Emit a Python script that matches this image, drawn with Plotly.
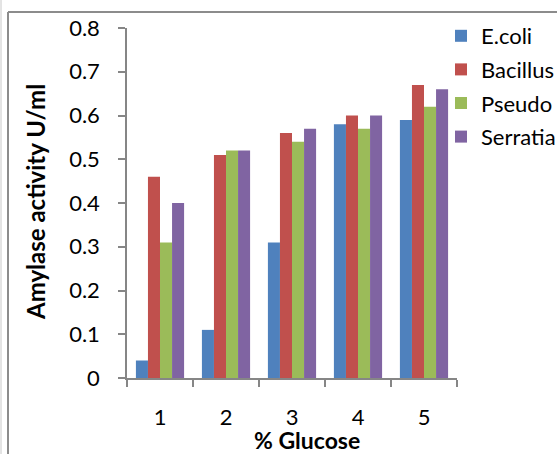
import plotly.graph_objects as go

# Amylase activity (U/ml) at each glucose concentration
glucose = ["1", "2", "3", "4", "5"]
ecoli = [0.04, 0.11, 0.31, 0.58, 0.59]
bacillus = [0.46, 0.51, 0.56, 0.60, 0.67]
pseudo = [0.31, 0.52, 0.54, 0.57, 0.62]
serratia = [0.40, 0.52, 0.57, 0.60, 0.66]

series_names = ["E.coli", "Bacillus", "Pseudo", "Serratia"]
series_values = [ecoli, bacillus, pseudo, serratia]
colors = ["#4F81BD", "#C0504D", "#9BBB59", "#8064A2"]

y_ticks = [0, 0.1, 0.2, 0.3, 0.4, 0.5, 0.6, 0.7, 0.8]
y_tick_text = ["0", "0.1", "0.2", "0.3", "0.4", "0.5", "0.6", "0.7", "0.8"]

FONT = "Lato"
AXIS_GREY = "#868686"
TICK_SIZE = 22
TITLE_SIZE = 24

fig = go.Figure()
for name, vals, col in zip(series_names, series_values, colors):
    fig.add_trace(go.Bar(
        x=glucose, y=vals, name=name,
        marker=dict(color=col, line=dict(width=0)),
        legendgroup=name,
    ))

W, H = 557, 454
L, R, T, B = 127, 100, 28, 76
pw, ph = W - L - R, H - T - B

def px_x(x):
    return (x - L) / pw

def px_y(y):
    return 1 - (y - T) / ph

fig.update_layout(
    width=W, height=H,
    margin=dict(l=L, r=R, t=T, b=B, autoexpand=False),
    paper_bgcolor="white", plot_bgcolor="white",
    barmode="group", bargap=0.27, bargroupgap=0,
    font=dict(family=FONT, size=TICK_SIZE, color="black"),
    showlegend=True,
    legend=dict(
        xref="container", yref="container",
        x=441 / W, y=1 - 15 / H, xanchor="left", yanchor="top",
        font=dict(family=FONT, size=TICK_SIZE, color="black"),
        bgcolor="rgba(0,0,0,0)", itemwidth=30, tracegroupgap=2,
    ),
    xaxis=dict(
        type="category", showline=True, linecolor=AXIS_GREY, linewidth=1.5,
        ticks="outside", ticklen=7, tickcolor=AXIS_GREY, tickwidth=1.5,
        tickson="boundaries", showgrid=False, zeroline=False,
        ticklabelstandoff=19,
        tickfont=dict(family=FONT, size=TICK_SIZE),
    ),
    yaxis=dict(
        range=[0, 0.8], tickvals=y_ticks, ticktext=y_tick_text,
        showline=True, linecolor=AXIS_GREY, linewidth=1.5,
        ticks="outside", ticklen=7, tickcolor=AXIS_GREY, tickwidth=1.5,
        showgrid=False, zeroline=False, ticklabelstandoff=14,
        tickfont=dict(family=FONT, size=TICK_SIZE),
    ),
    annotations=[
        dict(text="<b>% Glucose</b>", xref="paper", yref="paper",
             x=px_x(307), y=px_y(440), xanchor="center", yanchor="middle",
             showarrow=False, font=dict(family=FONT, size=23)),
        dict(text="<b>Amylase activity U/ml</b>", xref="paper", yref="paper",
             x=px_x(35), y=px_y(202), xanchor="center", yanchor="middle",
             textangle=-90, showarrow=False, font=dict(family=FONT, size=TITLE_SIZE)),
    ],
    shapes=[
        # chart frame
        dict(type="line", xref="paper", yref="paper",
             x0=px_x(8), x1=px_x(8), y0=px_y(12), y1=px_y(460),
             line=dict(color="#8C8C8C", width=2)),
        dict(type="line", xref="paper", yref="paper",
             x0=px_x(8), x1=px_x(570), y0=px_y(12), y1=px_y(12),
             line=dict(color="#8C8C8C", width=2)),
        dict(type="line", xref="paper", yref="paper",
             x0=px_x(1), x1=px_x(1), y0=px_y(0), y1=px_y(460),
             line=dict(color="#C8C8C8", width=1)),
    ],
)

fig.write_html("out.html")
